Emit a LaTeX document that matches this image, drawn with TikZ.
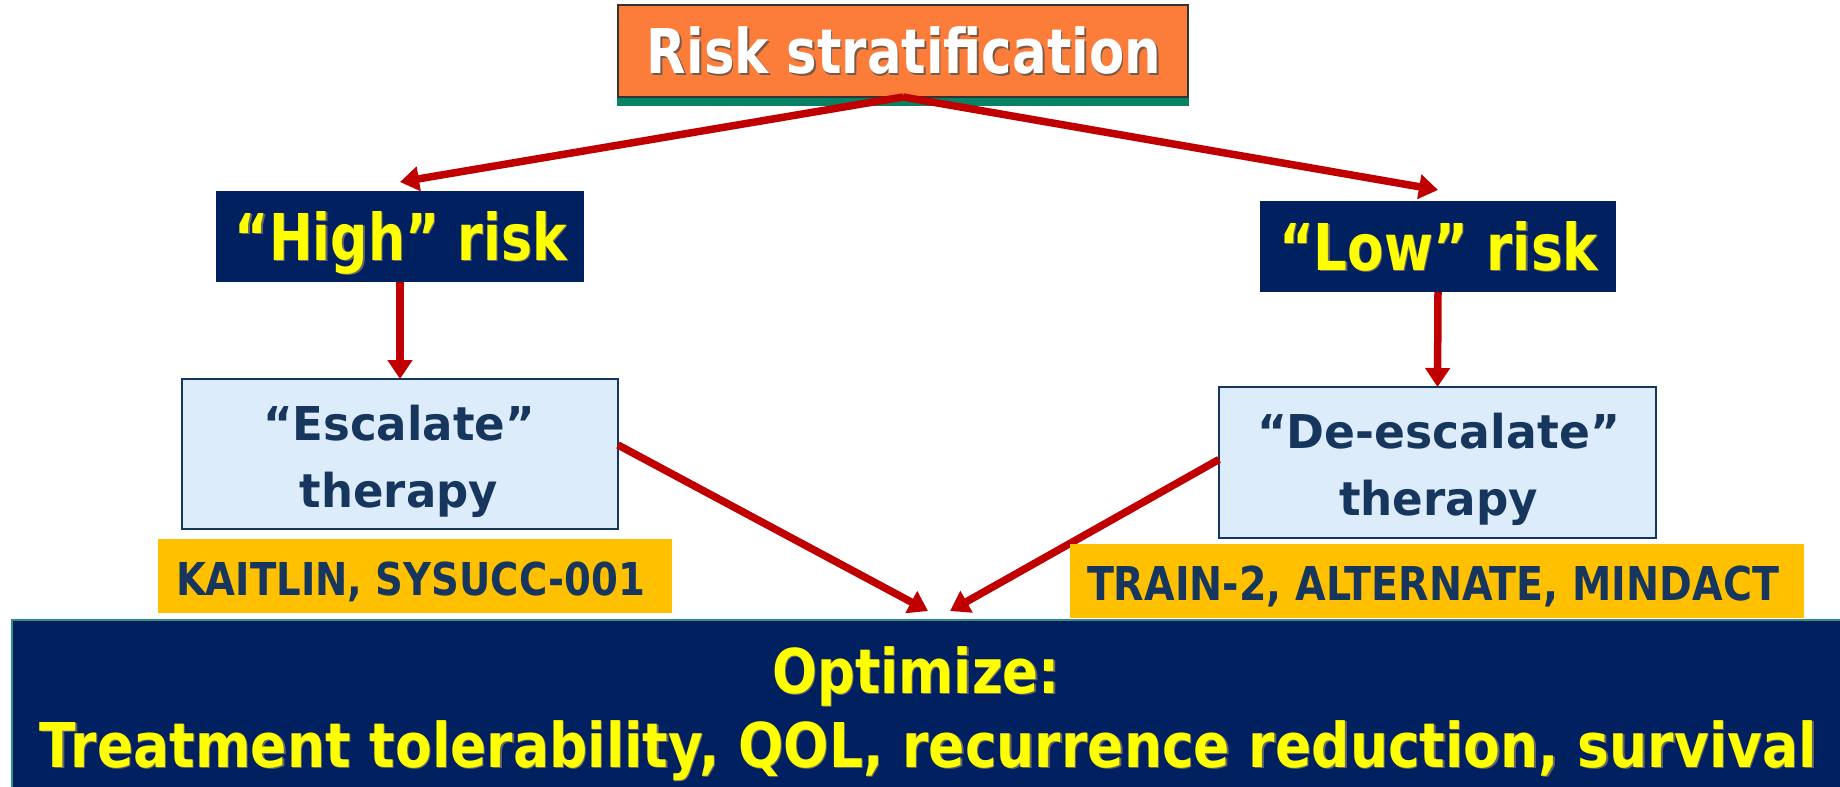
\documentclass[tikz,border=0pt]{standalone}
\usepackage{fontspec}
\setmainfont{DejaVu Sans}
\usepackage{graphicx}
\usetikzlibrary{arrows.meta}
\definecolor{orangebox}{RGB}{252,125,58}
\definecolor{greenstrip}{RGB}{8,130,100}
\definecolor{navy}{RGB}{0,32,96}
\definecolor{lightblue}{RGB}{220,236,250}
\definecolor{darkblue}{RGB}{23,54,93}
\definecolor{gold}{RGB}{255,192,0}
\definecolor{arrowred}{RGB}{192,0,0}
\definecolor{textyellow}{RGB}{255,255,0}
\definecolor{bannerline}{RGB}{50,140,130}
\definecolor{shadowgray}{RGB}{120,90,70}
\newcommand\fitw[2]{\resizebox{#1pt}{\height}{#2}}
\newcommand\shtext[4]{\leavevmode\rlap{\kern#4pt\raisebox{-#4pt}{\textcolor{#2}{#3}}}\textcolor{#1}{#3}}
\tikzset{
  boxbase/.style={inner sep=0pt, outer sep=0pt, anchor=center},
  orangestyle/.style={boxbase, fill=orangebox, draw=black!80, line width=1.5pt},
  stripstyle/.style={boxbase, fill=greenstrip},
  navystyle/.style={boxbase, fill=navy},
  bluestyle/.style={boxbase, fill=lightblue, draw=darkblue, line width=1.5pt},
  goldstyle/.style={boxbase, fill=gold},
  bannerstyle/.style={boxbase, fill=navy, draw=bannerline, line width=2pt},
  txt/.style={inner sep=0pt, outer sep=0pt, anchor=base},
  arr/.style={draw=arrowred, line width=7.5pt, -{Triangle[width=24pt,length=19pt]}},
}
\begin{document}
\begin{tikzpicture}[x=1pt,y=-1pt]
\useasboundingbox (0,0) rectangle (1840,787);
\fill[white] (0,0) rectangle (1840,787);
% boxes
\node[stripstyle, minimum width=572pt, minimum height=9pt] (riskbar) at (903,101.5) {};
\node[orangestyle, minimum width=570pt, minimum height=92pt] (risk) at (903,51) {};
\node[navystyle, minimum width=368pt, minimum height=91pt] (high) at (400,236.5) {};
\node[navystyle, minimum width=356pt, minimum height=91pt] (low) at (1438,246.5) {};
\node[bluestyle, minimum width=436pt, minimum height=150pt] (esc) at (400,454) {};
\node[bluestyle, minimum width=437pt, minimum height=151pt] (desc) at (1437.5,462.5) {};
\node[bannerstyle, minimum width=1840pt, minimum height=180pt] (opt) at (932,710) {};
% texts
\node[txt, font=\bfseries\fontsize{61.7}{70}\selectfont] (risk-t) at (904,73) {\fitw{514}{\shtext{white}{shadowgray}{Risk stratification}{2}}};
\node[txt, font=\bfseries\fontsize{64.5}{72}\selectfont] (high-t) at (401,260) {\fitw{332}{\shtext{textyellow}{black!60}{“High” risk}{1.5}}};
\node[txt, font=\bfseries\fontsize{64.5}{72}\selectfont] (low-t) at (1438.5,270) {\fitw{319}{\shtext{textyellow}{black!60}{“Low” risk}{1.5}}};
\node[txt, font=\bfseries\fontsize{46.6}{60}\selectfont, text=darkblue] (esc-t1) at (399,440) {\fitw{272}{“Escalate”}};
\node[txt, font=\bfseries\fontsize{46.6}{60}\selectfont, text=darkblue] (esc-t2) at (399,507) {\fitw{198}{therapy}};
\node[txt, font=\bfseries\fontsize{46.6}{60}\selectfont, text=darkblue] (desc-t1) at (1438.5,448) {\fitw{363}{“De-escalate”}};
\node[txt, font=\bfseries\fontsize{46.6}{60}\selectfont, text=darkblue] (desc-t2) at (1438.5,515) {\fitw{199}{therapy}};
\node[txt, font=\bfseries\fontsize{61.7}{70}\selectfont] (opt-t1) at (916,693) {\fitw{288}{\shtext{textyellow}{black!60}{Optimize:}{1.5}}};
\node[txt, font=\bfseries\fontsize{61.7}{70}\selectfont] (opt-t2) at (928.5,767) {\fitw{1777}{\shtext{textyellow}{black!60}{Treatment tolerability, QOL, recurrence reduction, survival}{1.5}}};
% connectors
\coordinate (tipL) at (928,611);
\coordinate (tipR) at (950,611);
\draw[arr] (risk.south) -- ([yshift=9pt]high.north);
\draw[arr] (risk.south) -- ([yshift=11pt]low.north);
\draw[arr] (high.south) -- (esc.north);
\draw[arr] (low.south) -- (desc.north);
\draw[arr] ([yshift=9pt]esc.east) -- (tipL);
\draw[arr] ([yshift=3pt]desc.west) -- (tipR);
% gold label boxes
\node[goldstyle, minimum width=514pt, minimum height=74pt] (kait) at (415,576) {};
\node[goldstyle, minimum width=734pt, minimum height=74pt] (train) at (1437,581) {};
\node[txt, font=\bfseries\fontsize{45.3}{56}\selectfont, text=darkblue] (kait-t) at (410.5,595) {\fitw{469}{KAITLIN, SYSUCC-001}};
\node[txt, font=\bfseries\fontsize{46.6}{56}\selectfont, text=darkblue] (train-t) at (1433,600) {\fitw{692}{TRAIN-2, ALTERNATE, MINDACT}};
\end{tikzpicture}
\end{document}
